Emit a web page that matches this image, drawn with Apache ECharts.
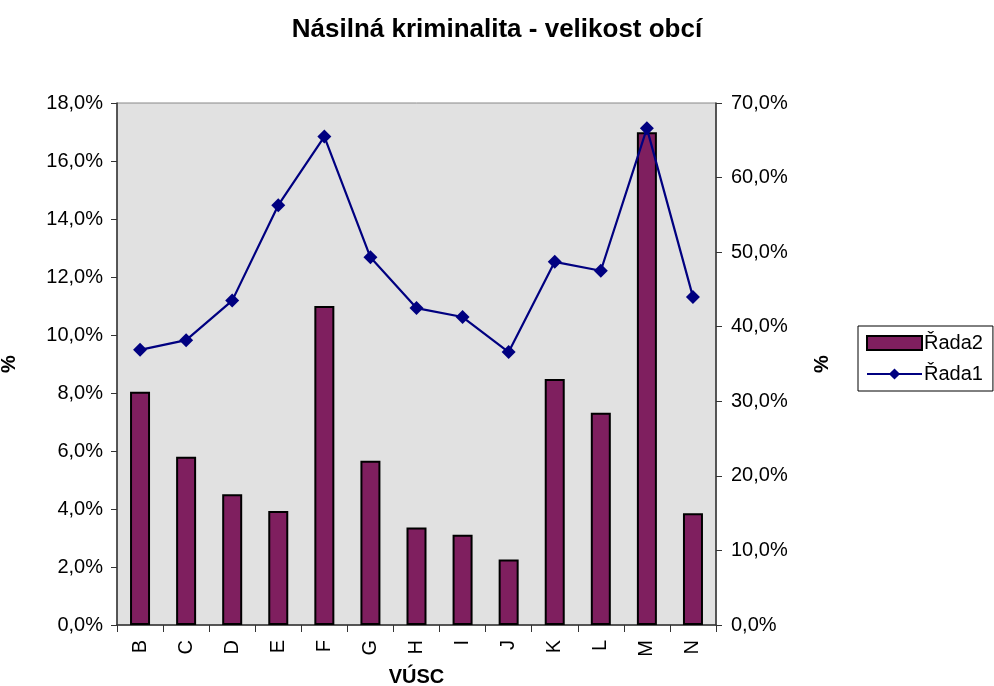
<!DOCTYPE html>
<html>
<head>
<meta charset="utf-8">
<script src="https://cdn.jsdelivr.net/npm/echarts@6/dist/echarts.min.js"></script>
<style>
  html, body { margin: 0; padding: 0; background: #fff; }
  #chart { width: 994px; height: 686px; }
</style>
</head>
<body>
<div id="chart"></div>
<script>
// kategorie VÚSC
const categories = ['B', 'C', 'D', 'E', 'F', 'G', 'H', 'I', 'J', 'K', 'L', 'M', 'N']
// Řada2 - sloupce (levá osa, %)
const rada2 = [8.04, 5.80, 4.51, 3.93, 11.0, 5.66, 3.36, 3.11, 2.26, 8.48, 7.32, 16.99, 3.85]
// Řada1 - čára (pravá osa, %)
const rada1 = [36.9, 38.2, 43.5, 56.3, 65.5, 49.3, 42.5, 41.3, 36.6, 48.7, 47.5, 66.6, 44.0]

const FONT = 'Liberation Sans, Arial, sans-serif'
const fmt = v => v.toFixed(1).replace('.', ',') + '%'

const chart = echarts.init(document.getElementById('chart'))
const option = {
  animation: false,
  textStyle: { fontFamily: FONT },
  title: {
    text: 'Násilná kriminalita - velikost obcí',
    left: 'center',
    top: 12,
    textStyle: { fontFamily: FONT, fontSize: 26, fontWeight: 'bold', color: '#000' }
  },
  legend: {
    orient: 'vertical',
    left: 858,
    top: 326,
    padding: [7, 10, 7, 8],
    borderColor: '#000',
    borderWidth: 1,
    itemWidth: 55,
    itemHeight: 14,
    itemGap: 11,
    data: [{ name: 'Řada2', icon: 'rect' }, { name: 'Řada1' }],
    textStyle: { fontFamily: FONT, fontSize: 20, color: '#000', padding: [0, 0, 0, -3] }
  },
  grid: {
    left: 117,
    top: 103,
    right: 278,
    bottom: 61,
    outerBoundsMode: 'none',
    containLabel: false,
    show: true,
    backgroundColor: '#E1E1E1',
    borderColor: '#888',
    borderWidth: 1
  },
  xAxis: {
    type: 'category',
    data: categories,
    name: 'VÚSC',
    nameLocation: 'middle',
    nameGap: 42,
    nameTextStyle: { fontFamily: FONT, fontSize: 20, fontWeight: 'bold', color: '#000' },
    axisLine: { lineStyle: { color: '#333', width: 1.5 } },
    axisTick: { show: true, length: 7, lineStyle: { color: '#333' } },
    axisLabel: { rotate: 90, margin: 15, fontFamily: FONT, fontSize: 20, color: '#000' }
  },
  yAxis: [
    {
      type: 'value',
      min: 0,
      max: 18,
      interval: 2,
      name: '%',
      nameLocation: 'middle',
      nameRotate: 90,
      nameGap: 98,
      nameTextStyle: { fontFamily: FONT, fontSize: 20, fontWeight: 'bold', color: '#000' },
      axisLine: { show: true, lineStyle: { color: '#333', width: 1.5 } },
      axisTick: { show: true, length: 6, lineStyle: { color: '#333' } },
      splitLine: { show: false },
      axisLabel: { formatter: fmt, margin: 14, fontFamily: FONT, fontSize: 20, color: '#000' }
    },
    {
      type: 'value',
      min: 0,
      max: 70,
      interval: 10,
      name: '%',
      nameLocation: 'middle',
      nameRotate: 90,
      nameGap: 96,
      nameTextStyle: { fontFamily: FONT, fontSize: 20, fontWeight: 'bold', color: '#000' },
      axisLine: { show: true, lineStyle: { color: '#333', width: 1.5 } },
      axisTick: { show: true, length: 6, lineStyle: { color: '#333' } },
      splitLine: { show: false },
      axisLabel: { formatter: fmt, margin: 15, fontFamily: FONT, fontSize: 20, color: '#000' }
    }
  ],
  series: [
    {
      name: 'Řada2',
      type: 'bar',
      yAxisIndex: 0,
      data: rada2,
      barWidth: 20,
      itemStyle: { color: '#7F1F5F', borderColor: '#000', borderWidth: 2 }
    },
    {
      name: 'Řada1',
      type: 'line',
      yAxisIndex: 1,
      data: rada1,
      symbol: 'diamond',
      symbolSize: 14,
      lineStyle: { color: '#000080', width: 2.2 },
      itemStyle: { color: '#000080' }
    }
  ]
}
chart.setOption(option)
window.addEventListener('resize', () => {
  chart?.resize()
})
</script>
</body>
</html>
